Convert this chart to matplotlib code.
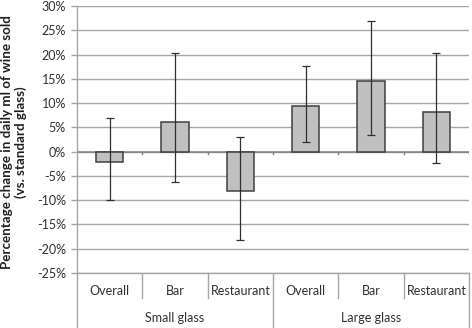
import numpy as np
import matplotlib
matplotlib.use("Agg")
import matplotlib.pyplot as plt
from matplotlib.transforms import blended_transform_factory

# values (percent)
groups = ["Small glass", "Large glass"]
categories = ["Overall", "Bar", "Restaurant", "Overall", "Bar", "Restaurant"]
values = [-2.1, 6.1, -8.2, 9.5, 14.6, 8.2]
err_upper = [6.9, 20.3, 3.0, 17.6, 26.9, 20.3]
err_lower = [-10.0, -6.3, -18.1, 2.0, 3.4, -2.4]

yticks = list(range(-25, 31, 5))

plt.rcParams["font.family"] = ["Lato", "DejaVu Sans"]

fig = plt.figure(figsize=(4.72, 3.28), dpi=100)
ax = fig.add_axes([77 / 472, 55 / 328, 392 / 472, 267 / 328])

x = np.arange(len(categories))
vals = np.array(values)
yerr = np.array([vals - np.array(err_lower), np.array(err_upper) - vals])

for yt in yticks:
    ax.axhline(yt, color="#a6a6a6", lw=1.0, zorder=0)

ax.bar(x, vals, width=0.42, color="#c0c0c0", edgecolor="#404040", linewidth=1.1, zorder=2)
ax.errorbar(x, vals, yerr=yerr, fmt="none", ecolor="#303030", elinewidth=0.9,
            capsize=3.2, capthick=0.9, zorder=3)

ax.set_xlim(-0.5, len(categories) - 0.5)
ax.set_ylim(-25, 30)
ax.set_yticks(yticks)
ax.set_yticklabels([f"{t}%" for t in yticks], fontsize=9, color="#303030")
ax.tick_params(axis="y", length=4, width=1, color="#a6a6a6", pad=4)
ax.set_xticks([])

for s in ["top", "right", "bottom"]:
    ax.spines[s].set_visible(False)
ax.spines["left"].set_color("#a6a6a6")
ax.spines["left"].set_linewidth(1.0)

# zero axis line with small tick marks at category boundaries
ax.axhline(0, color="#808080", lw=1.1, zorder=1)
for b in np.arange(0.5, len(categories) - 0.5, 1.0):
    ax.plot([b, b], [0, -0.45], color="#808080", lw=1.0, zorder=1)
ax.plot([len(categories) - 0.5] * 2, [0, -0.45], color="#808080", lw=1.0, zorder=1)

# two-level category axis below the plot
trans = blended_transform_factory(ax.transData, ax.transAxes)
ax_h = 267.0
inner_drop = 25 / ax_h
outer_drop = 55 / ax_h
ax.plot([-0.5, len(categories) - 0.5], [0, 0], transform=trans, color="#a6a6a6",
        lw=1.0, clip_on=False)
n_per = len(categories) // len(groups)
for i in range(len(categories) + 1):
    b = i - 0.5
    drop = outer_drop if i % n_per == 0 else inner_drop
    ax.plot([b, b], [0, -drop], transform=trans, color="#a6a6a6", lw=1.0, clip_on=False)
for i, c in enumerate(categories):
    ax.text(i, -18 / ax_h, c, transform=trans, ha="center", va="center",
            fontsize=9, color="#303030", clip_on=False)
for g, name in enumerate(groups):
    ax.text(g * n_per + (n_per - 1) / 2, -45 / ax_h, name, transform=trans,
            ha="center", va="center", fontsize=9, color="#303030", clip_on=False)

fig.text(14 / 472, 1 - 142 / 328,
         "Percentage change in daily ml of wine sold\n(vs. standard glass)",
         rotation=90, ha="center", va="center", fontsize=9.6, fontweight="bold",
         color="#202020", linespacing=1.1)

fig.savefig("out.png", dpi=100)
